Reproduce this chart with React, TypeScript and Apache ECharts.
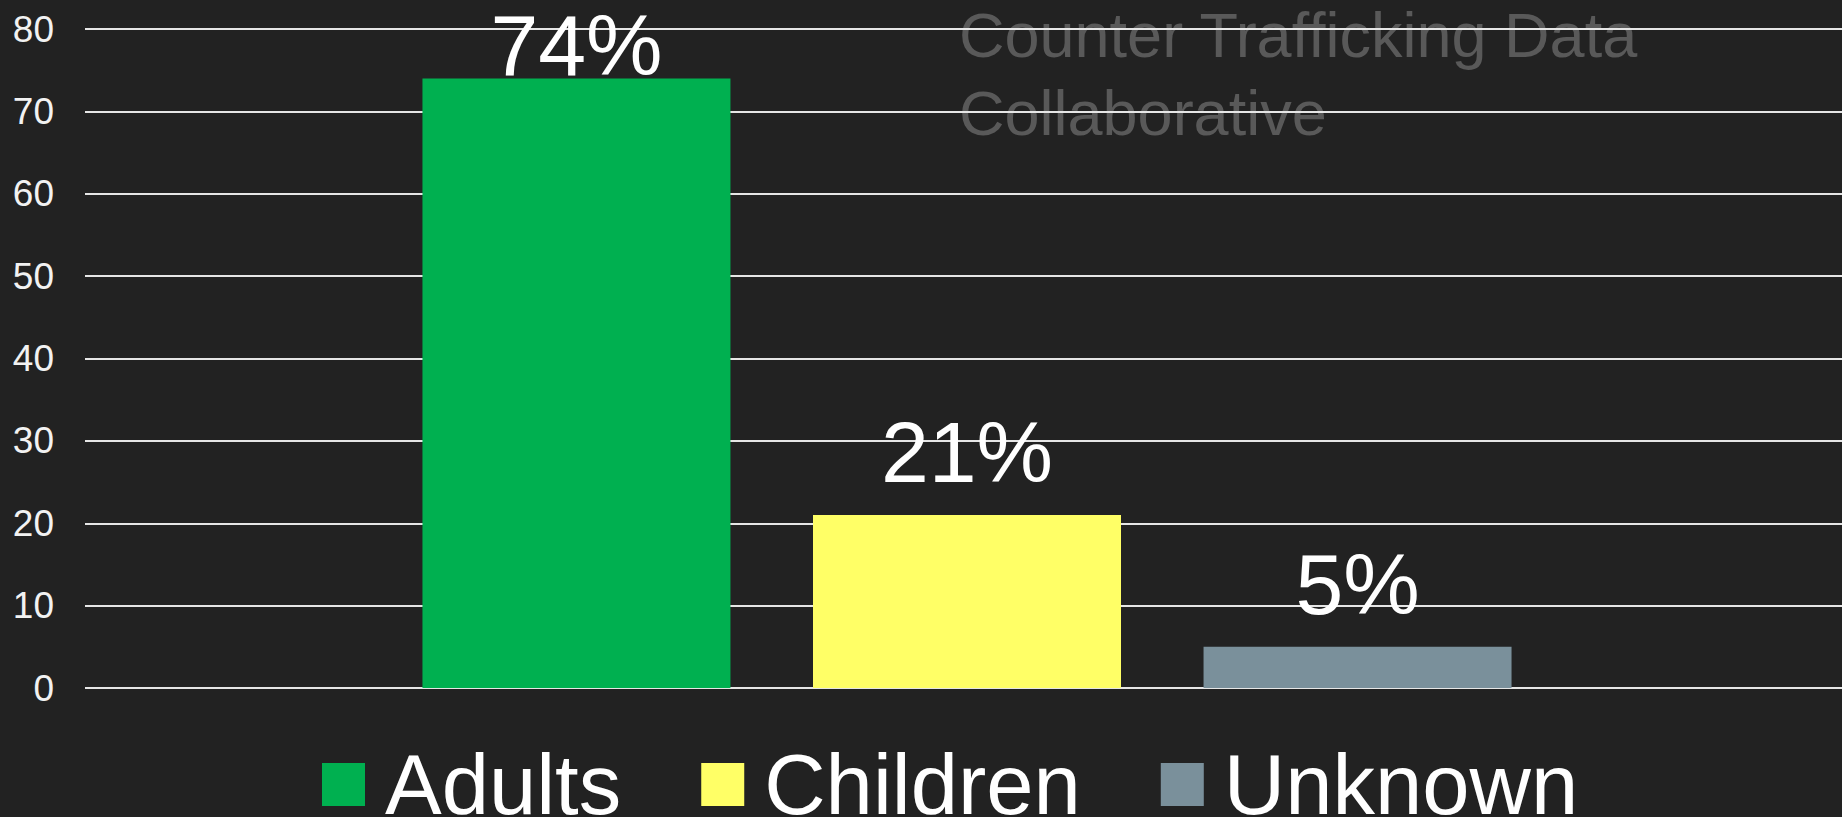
import React, { useEffect, useRef } from "react";
import * as echarts from "echarts";

const categories = ["Victims"];
const seriesNames = ["Adults", "Children", "Unknown"];
const seriesValues = [74, 21, 5];
const seriesColors = ["#00B050", "#FFFF66", "#7A909B"];
const yTicks = { min: 0, max: 80, interval: 10 };
const watermark = "Counter Trafficking Data\nCollaborative";

export default function App() {
  const ref = useRef<HTMLDivElement>(null);
  useEffect(() => {
    if (!ref.current) return;
    const chart = echarts.init(ref.current, null, { renderer: "svg" });
    const font = "'Liberation Sans', Arial, sans-serif";
    chart.setOption({
      animation: false,
      backgroundColor: "#222222",
      grid: [
        { left: 85, right: 0, top: 29, bottom: 129, containLabel: false },
        { left: 92, right: 0, top: 29, bottom: 129, containLabel: false },
      ],
      graphic: [
        {
          type: "text",
          x: 959,
          y: -4,
          z: -10,
          style: {
            text: watermark,
            fill: "#595959",
            font: `63px ${font}`,
            lineHeight: 78,
            textVerticalAlign: "top",
          },
        },
      ],
      legend: {
        left: 317,
        top: 737,
        itemWidth: 43,
        itemHeight: 43,
        itemGap: 80,
        icon: "rect",
        data: seriesNames,
        textStyle: {
          color: "#ffffff",
          fontSize: 85,
          fontFamily: font,
          lineHeight: 84,
          padding: [0, 0, 0, 15],
        },
      },
      xAxis: [
        {
          type: "category",
          gridIndex: 0,
          data: categories,
          axisLine: { show: false },
          axisTick: { show: false },
          axisLabel: { show: false },
        },
        {
          type: "category",
          gridIndex: 1,
          data: categories,
          axisLine: { show: false },
          axisTick: { show: false },
          axisLabel: { show: false },
        },
      ],
      yAxis: [
        {
          type: "value",
          gridIndex: 0,
          min: yTicks.min,
          max: yTicks.max,
          interval: yTicks.interval,
          axisLine: { show: false },
          axisTick: { show: false },
          axisLabel: { color: "#f2f2f2", fontSize: 37, fontFamily: font, margin: 31 },
          splitLine: { lineStyle: { color: "#e6e6e6", width: 2 } },
        },
        {
          type: "value",
          gridIndex: 1,
          min: yTicks.min,
          max: yTicks.max,
          interval: yTicks.interval,
          axisLine: { show: false },
          axisTick: { show: false },
          axisLabel: { show: false },
          splitLine: { show: false },
        },
      ],
      series: seriesNames.map((name, i) => ({
        type: "bar",
        name,
        xAxisIndex: 1,
        yAxisIndex: 1,
        data: [seriesValues[i]],
        barWidth: 308,
        barGap: "26.8%",
        itemStyle: { color: seriesColors[i] },
        label: {
          show: true,
          position: "top",
          distance: i === 0 ? -10 : 20,
          formatter: "{c}%",
          color: "#ffffff",
          fontSize: 86,
          fontFamily: font,
        },
      })),
    });
    return () => chart.dispose();
  }, []);
  return (
    <div
      ref={ref}
      style={{ position: "absolute", left: 0, top: 0, width: 1842, height: 817 }}
    />
  );
}
